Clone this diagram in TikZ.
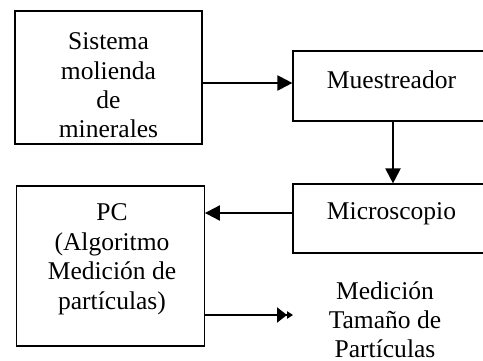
\documentclass[tikz,border=0pt]{standalone}
\usepackage{fontspec}
\setmainfont{Liberation Serif}
\usepackage{tikz}
\usetikzlibrary{calc,arrows.meta}

\begin{document}
\begin{tikzpicture}[x=0.03cm,y=-0.03cm,
	>={Triangle[length=0.45cm,width=0.45cm]},
	caja/.style={draw,line width=1pt,inner sep=0pt},
	texto/.style={anchor=north,inner sep=0pt,align=center,
		font=\fontsize{21.8pt}{25.1pt}\selectfont},
	flecha/.style={line width=1.8pt,->}]
	\clip (0,0) rectangle (483,360);
	\useasboundingbox (0,0) rectangle (483,360);
	
	\node[caja,minimum width=5.61cm,minimum height=3.99cm] (sist) at (108.5,77.5) {};
	\node[caja,minimum width=5.91cm,minimum height=2.10cm] (mues) at (391.5,86) {};
	\node[caja,minimum width=5.91cm,minimum height=2.07cm] (micro) at (391.5,218.5) {};
	\node[caja,minimum width=5.63cm,minimum height=4.80cm] (pc) at (110.5,266) {};
	
	\node[texto] (tsist) at (108.5,32.6) {Sistema\\molienda\\de\\minerales};
	\node[texto] (tmues) at (391.5,70.6) {Muestreador};
	\node[texto] (tmicro) at (391.5,202.6) {Microscopio};
	\node[texto] (tpc) at (112,203.8) {PC\\(Algoritmo\\Medición de\\partículas)};
	\node[texto] (salida) at (385,281) {Medición\\Tamaño de\\Partículas};
	
	\coordinate (fin) at (293,315);
	
	\draw[flecha] (sist.east |- 0,83) -- (mues.west |- 0,83);
	\draw[flecha] (mues.south -| 393,0) -- (micro.north -| 393,0);
	\draw[flecha] (micro.west |- 0,213) -- (pc.east |- 0,213);
	% salida con doble punta
	\draw[line width=1.8pt,-{Triangle[length=0.3cm,width=0.45cm]Triangle[length=0.18cm,width=0.22cm]}] (pc.east |- fin) -- (fin);
\end{tikzpicture}
\end{document}
